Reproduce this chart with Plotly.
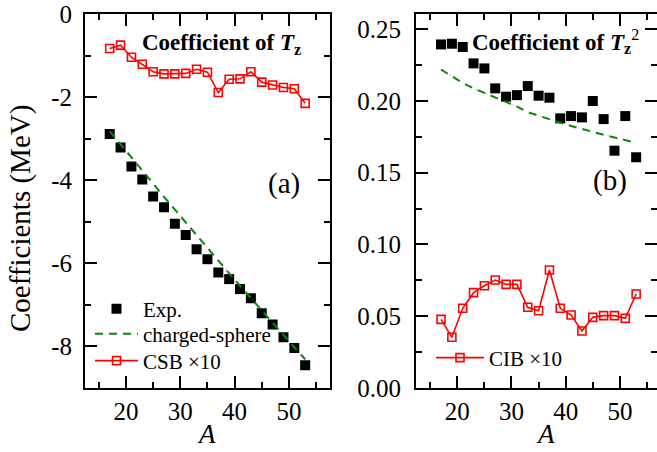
import plotly.graph_objects as go

# ---------------- data ----------------
A = [17, 19, 21, 23, 25, 27, 29, 31, 33, 35, 37, 39, 41, 43, 45, 47, 49, 51, 53]

# panel (a): coefficient of Tz (MeV)
exp_a = [-2.89, -3.21, -3.67, -3.98, -4.39, -4.65, -5.05, -5.32, -5.66, -5.90,
         -6.22, -6.38, -6.62, -6.84, -7.20, -7.47, -7.78, -8.04, -8.45]
sphere_a = [-2.82, -3.13, -3.45, -3.77, -4.08, -4.40, -4.71, -5.02, -5.33, -5.64,
            -5.94, -6.24, -6.54, -6.84, -7.14, -7.44, -7.73, -8.02, -8.31]
csb_a = [-0.83, -0.75, -1.04, -1.21, -1.39, -1.44, -1.44, -1.43, -1.33, -1.40,
         -1.89, -1.57, -1.56, -1.39, -1.64, -1.71, -1.77, -1.80, -2.15]

# panel (b): coefficient of Tz^2 (MeV)
exp_b = [0.2393, 0.2398, 0.2375, 0.2261, 0.2226, 0.2087, 0.2029, 0.2040, 0.2103, 0.2036,
         0.2022, 0.1878, 0.1894, 0.1885, 0.1999, 0.1873, 0.1653, 0.1894, 0.1607]
sphere_b = [0.2218, 0.2170, 0.2125, 0.2087, 0.2055, 0.2024, 0.1992, 0.1960, 0.1921, 0.1895,
            0.1870, 0.1847, 0.1825, 0.1803, 0.1782, 0.1764, 0.1745, 0.1725, 0.1708]
cib_b = [0.0478, 0.0353, 0.0555, 0.0664, 0.0712, 0.0752, 0.0722, 0.0722, 0.0562, 0.0538,
         0.0822, 0.0555, 0.0508, 0.0397, 0.0492, 0.0504, 0.0504, 0.0485, 0.0655]

xticks = [20, 30, 40, 50]
xminor = [15, 25, 35, 45, 55]
ya_ticks = [0, -2, -4, -6, -8]
ya_text = ["0", "-2", "-4", "-6", "-8"]
ya_minor = [-1, -3, -5, -7]
yb_ticks = [0.0, 0.05, 0.10, 0.15, 0.20, 0.25]
yb_text = ["0.00", "0.05", "0.10", "0.15", "0.20", "0.25"]
yb_minor = [0.025, 0.075, 0.125, 0.175, 0.225]

# ---------------- layout helpers ----------------
W, H = 657, 452
MT, MB = 14, 64
FONT = "Liberation Serif, Times New Roman, serif"


def px(x):
    return x / W


def py(y):
    return (H - MB - y) / (H - MT - MB)


fig = go.Figure()

RED = "#ff0000"
GREEN = "#0a880a"

# panel (a)
fig.add_trace(go.Scatter(x=A, y=exp_a, mode="markers", name="Exp.",
                         marker=dict(symbol="square", size=10, color="black"),
                         xaxis="x", yaxis="y", legend="legend"))
fig.add_trace(go.Scatter(x=A, y=sphere_a, mode="lines", showlegend=False,
                         line=dict(color="rgba(255,60,60,0.7)", width=1, dash="1px,9px"),
                         xaxis="x", yaxis="y", hoverinfo="skip"))
fig.add_trace(go.Scatter(x=A, y=sphere_a, mode="lines", name="charged-sphere",
                         line=dict(color=GREEN, width=2, dash="8px,6px"),
                         xaxis="x", yaxis="y", legend="legend3"))
fig.add_trace(go.Scatter(x=A, y=csb_a, mode="lines+markers", name="CSB \u00d710",
                         line=dict(color=RED, width=1.6),
                         marker=dict(symbol="square-open", size=8, color=RED,
                                     line=dict(width=1.6, color=RED)),
                         xaxis="x", yaxis="y", legend="legend4"))

# panel (b)
fig.add_trace(go.Scatter(x=A, y=exp_b, mode="markers", showlegend=False,
                         marker=dict(symbol="square", size=10, color="black"),
                         xaxis="x2", yaxis="y2"))
fig.add_trace(go.Scatter(x=A, y=sphere_b, mode="lines", showlegend=False,
                         line=dict(color="rgba(255,60,60,0.7)", width=1, dash="1px,9px"),
                         xaxis="x2", yaxis="y2", hoverinfo="skip"))
fig.add_trace(go.Scatter(x=A, y=sphere_b, mode="lines", showlegend=False,
                         line=dict(color=GREEN, width=2, dash="8px,6px"),
                         xaxis="x2", yaxis="y2"))
fig.add_trace(go.Scatter(x=A, y=cib_b, mode="lines+markers", name="CIB \u00d710",
                         line=dict(color=RED, width=1.6),
                         marker=dict(symbol="square-open", size=8, color=RED,
                                     line=dict(width=1.6, color=RED)),
                         xaxis="x2", yaxis="y2", legend="legend2"))
# dummy trace to activate the mirrored right-hand tick axis of panel (b)
fig.add_trace(go.Scatter(x=[], y=[], xaxis="x2", yaxis="y3", showlegend=False))

axis_common = dict(
    showline=True, linecolor="black", linewidth=2,
    ticks="inside", ticklen=12, tickwidth=2, tickcolor="black",
    showgrid=False, zeroline=False,
    tickfont=dict(family=FONT, size=25, color="black"),
)
minor_common = dict(tickmode="array", ticks="inside", ticklen=6,
                    tickwidth=2, tickcolor="black", showgrid=False)
leg_common = dict(xanchor="left", yanchor="middle", bgcolor="rgba(0,0,0,0)",
                  font=dict(family=FONT, size=21, color="black"), itemwidth=43)

fig.update_layout(
    width=W, height=H,
    margin=dict(l=0, r=0, t=MT, b=MB),
    paper_bgcolor="white", plot_bgcolor="white",
    font=dict(family=FONT, color="black"),
    xaxis=dict(axis_common, domain=[px(85), px(329.5)], range=[12.45, 57.48],
               tickmode="array", tickvals=xticks, mirror="ticks", anchor="y",
               minor=dict(minor_common, tickvals=xminor)),
    yaxis=dict(axis_common, domain=[0, 1], range=[-9, 0], anchor="x",
               tickmode="array", tickvals=ya_ticks, ticktext=ya_text, mirror="ticks",
               ticklabelstandoff=6,
               minor=dict(minor_common, tickvals=ya_minor)),
    xaxis2=dict(axis_common, domain=[px(416), 1], range=[12.38, 56.85],
                tickmode="array", tickvals=xticks, mirror="ticks", anchor="y2",
                minor=dict(minor_common, tickvals=xminor)),
    yaxis2=dict(axis_common, domain=[0, 1], range=[0, 0.2605], anchor="x2",
                tickmode="array", tickvals=yb_ticks, ticktext=yb_text, mirror=False,
                ticklabelstandoff=8,
                minor=dict(minor_common, tickvals=yb_minor)),
    yaxis3=dict(overlaying="y2", anchor="x2", side="right", range=[0, 0.2605],
                showline=False, showgrid=False, zeroline=False,
                ticks="inside", ticklen=12, tickwidth=2, tickcolor="black",
                tickmode="array", tickvals=yb_ticks, showticklabels=False,
                minor=dict(minor_common, tickvals=yb_minor)),
    legend=dict(leg_common, x=px(90), y=py(309)),
    legend3=dict(leg_common, x=px(90), y=py(334)),
    legend4=dict(leg_common, x=px(90), y=py(361)),
    legend2=dict(leg_common, x=px(431), y=py(358), itemwidth=48),
)

ann = [
    dict(text="<b>Coefficient of <i>T</i><sub>z</sub></b>", x=px(140), y=py(44),
         xanchor="left", yanchor="middle", font=dict(size=23)),
    dict(text="<b>Coefficient of <i>T</i><sub>z</sub></b><sup>2</sup>", x=px(470), y=py(42),
         xanchor="left", yanchor="middle", font=dict(size=23)),
    dict(text="(a)", x=px(284), y=py(183), xanchor="center", yanchor="middle",
         font=dict(size=29)),
    dict(text="(b)", x=px(610), y=py(180), xanchor="center", yanchor="middle",
         font=dict(size=29)),
    dict(text="Coefficients (MeV)", x=px(20), y=py(219), textangle=-90,
         xanchor="center", yanchor="middle", font=dict(size=29)),
    dict(text="<i>A</i>", x=px(206), y=py(434), xanchor="center", yanchor="middle",
         font=dict(size=27)),
    dict(text="<i>A</i>", x=px(545), y=py(434), xanchor="center", yanchor="middle",
         font=dict(size=27)),
]
for a in ann:
    a.update(xref="paper", yref="paper", showarrow=False)
    a["font"] = dict(family=FONT, color="black", **a["font"])
fig.update_layout(annotations=ann)

fig.write_html("out.html")
